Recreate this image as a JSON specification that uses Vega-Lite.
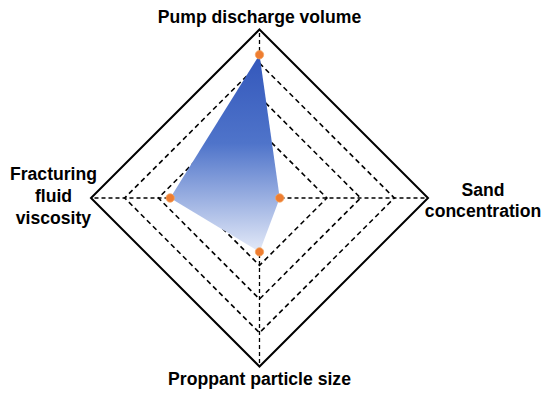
{
  "$schema": "https://vega.github.io/schema/vega-lite/v6.json",
  "width": 550,
  "height": 398,
  "padding": 0,
  "autosize": {"type": "none"},
  "config": {"view": {"stroke": null}, "font": "Liberation Sans"},
  "datasets": {
    "axes": [
      {"idx": 0, "axis": "Pump discharge volume", "label": "Pump discharge volume", "value": 0.85},
      {"idx": 1, "axis": "Sand concentration", "label": "Sand\nconcentration", "value": 0.12},
      {"idx": 2, "axis": "Proppant particle size", "label": "Proppant particle size", "value": 0.32},
      {"idx": 3, "axis": "Fracturing fluid viscosity", "label": "Fracturing\nfluid\nviscosity", "value": 0.53}
    ],
    "grid": [
      {"level": 0.4, "idx": 0}, {"level": 0.4, "idx": 1}, {"level": 0.4, "idx": 2}, {"level": 0.4, "idx": 3},
      {"level": 0.6, "idx": 0}, {"level": 0.6, "idx": 1}, {"level": 0.6, "idx": 2}, {"level": 0.6, "idx": 3},
      {"level": 0.8, "idx": 0}, {"level": 0.8, "idx": 1}, {"level": 0.8, "idx": 2}, {"level": 0.8, "idx": 3},
      {"level": 1.0, "idx": 0}, {"level": 1.0, "idx": 1}, {"level": 1.0, "idx": 2}, {"level": 1.0, "idx": 3}
    ]
  },
  "encoding": {
    "x": {"field": "x", "type": "quantitative", "scale": {"domain": [-1.540, 1.724], "nice": false, "zero": false}, "axis": null},
    "y": {"field": "y", "type": "quantitative", "scale": {"domain": [-1.187, 1.175], "nice": false, "zero": false}, "axis": null}
  },
  "layer": [
    {
      "data": {"name": "grid"},
      "transform": [
        {"filter": "datum.level < 1"},
        {"calculate": "datum.level * sin(datum.idx * PI / 2)", "as": "x"},
        {"calculate": "datum.level * cos(datum.idx * PI / 2)", "as": "y"}
      ],
      "mark": {"type": "line", "interpolate": "linear-closed", "color": "black", "strokeWidth": 1.6, "strokeDash": [5, 3.5]},
      "encoding": {"detail": {"field": "level"}, "order": {"field": "idx"}}
    },
    {
      "data": {"name": "grid"},
      "transform": [
        {"filter": "datum.level == 1"},
        {"calculate": "datum.level * sin(datum.idx * PI / 2)", "as": "x"},
        {"calculate": "datum.level * cos(datum.idx * PI / 2)", "as": "y"}
      ],
      "mark": {"type": "line", "interpolate": "linear-closed", "color": "black", "strokeWidth": 2},
      "encoding": {"detail": {"field": "level"}, "order": {"field": "idx"}}
    },
    {
      "data": {"name": "axes"},
      "transform": [
        {"calculate": "0", "as": "x"},
        {"calculate": "0", "as": "y"},
        {"calculate": "sin(datum.idx * PI / 2)", "as": "ex"},
        {"calculate": "cos(datum.idx * PI / 2)", "as": "ey"}
      ],
      "mark": {"type": "rule", "color": "black", "strokeWidth": 1.3, "strokeDash": [4, 3]},
      "encoding": {"x2": {"field": "ex"}, "y2": {"field": "ey"}}
    },
    {
      "data": {"name": "axes"},
      "transform": [
        {"calculate": "datum.value * sin(datum.idx * PI / 2)", "as": "x"},
        {"calculate": "datum.value * cos(datum.idx * PI / 2)", "as": "y"}
      ],
      "mark": {
        "type": "line",
        "interpolate": "linear-closed",
        "strokeWidth": 0,
        "stroke": "transparent",
        "fill": {
          "gradient": "linear",
          "x1": 0, "y1": 0, "x2": 0, "y2": 1,
          "stops": [
            {"offset": 0, "color": "#3357bb"},
            {"offset": 0.45, "color": "#4f74ca"},
            {"offset": 1, "color": "#e4eaf8"}
          ]
        }
      },
      "encoding": {"order": {"field": "idx"}}
    },
    {
      "data": {"name": "axes"},
      "transform": [
        {"calculate": "datum.value * sin(datum.idx * PI / 2)", "as": "x"},
        {"calculate": "datum.value * cos(datum.idx * PI / 2)", "as": "y"}
      ],
      "mark": {"type": "circle", "size": 70, "color": "#ee7d31", "opacity": 1, "stroke": "#f4a460", "strokeWidth": 0.8}
    },
    {
      "data": {"name": "axes"},
      "transform": [
        {"filter": "datum.idx == 0"},
        {"calculate": "sin(datum.idx * PI / 2)", "as": "x"},
        {"calculate": "cos(datum.idx * PI / 2)", "as": "y"}
      ],
      "mark": {"type": "text", "fontSize": 17.6, "fontWeight": "bold", "align": "center", "baseline": "alphabetic", "dy": -6, "lineBreak": "\n", "color": "black"},
      "encoding": {"text": {"field": "label"}}
    },
    {
      "data": {"name": "axes"},
      "transform": [
        {"filter": "datum.idx == 1"},
        {"calculate": "sin(datum.idx * PI / 2)", "as": "x"},
        {"calculate": "cos(datum.idx * PI / 2)", "as": "y"}
      ],
      "mark": {"type": "text", "fontSize": 17.6, "fontWeight": "bold", "align": "center", "baseline": "alphabetic", "dx": 55, "dy": -2, "lineHeight": 21, "lineBreak": "\n", "color": "black"},
      "encoding": {"text": {"field": "label"}}
    },
    {
      "data": {"name": "axes"},
      "transform": [
        {"filter": "datum.idx == 2"},
        {"calculate": "sin(datum.idx * PI / 2)", "as": "x"},
        {"calculate": "cos(datum.idx * PI / 2)", "as": "y"}
      ],
      "mark": {"type": "text", "fontSize": 17.6, "fontWeight": "bold", "align": "center", "baseline": "alphabetic", "dy": 18.5, "lineBreak": "\n", "color": "black"},
      "encoding": {"text": {"field": "label"}}
    },
    {
      "data": {"name": "axes"},
      "transform": [
        {"filter": "datum.idx == 3"},
        {"calculate": "sin(datum.idx * PI / 2)", "as": "x"},
        {"calculate": "cos(datum.idx * PI / 2)", "as": "y"}
      ],
      "mark": {"type": "text", "fontSize": 17.6, "fontWeight": "bold", "align": "center", "baseline": "alphabetic", "dx": -37.5, "dy": -18, "lineHeight": 22, "lineBreak": "\n", "color": "black"},
      "encoding": {"text": {"field": "label"}}
    }
  ]
}
